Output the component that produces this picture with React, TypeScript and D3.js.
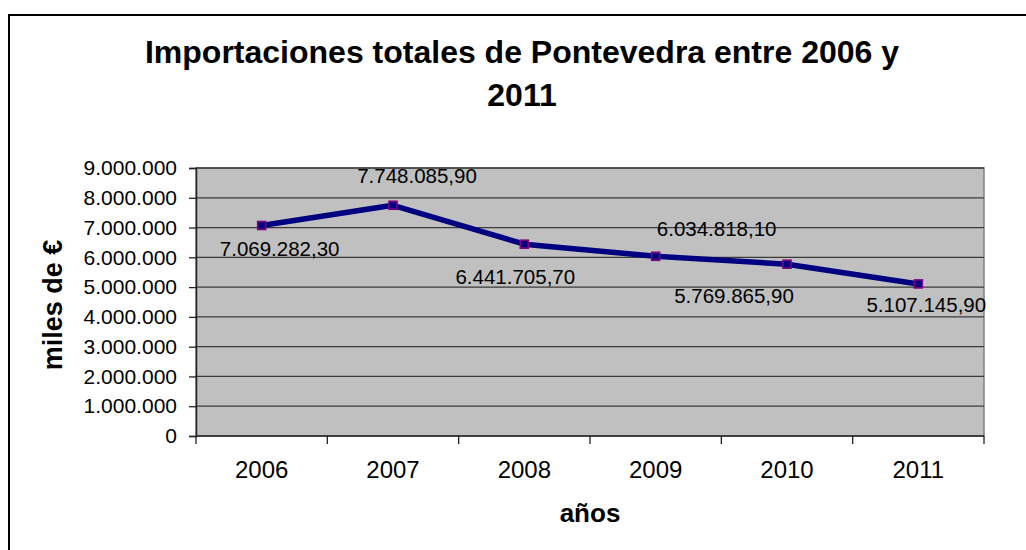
import { useEffect, useRef } from 'react';
import * as d3 from 'd3';

const years = ['2006', '2007', '2008', '2009', '2010', '2011'];
const imports = [7069282.3, 7748085.9, 6441705.7, 6034818.1, 5769865.9, 5107145.9];
const valueLabels = ['7.069.282,30', '7.748.085,90', '6.441.705,70', '6.034.818,10', '5.769.865,90', '5.107.145,90'];
const yTicks = [0, 1000000, 2000000, 3000000, 4000000, 5000000, 6000000, 7000000, 8000000, 9000000];
const yTickLabels = ['0', '1.000.000', '2.000.000', '3.000.000', '4.000.000', '5.000.000', '6.000.000', '7.000.000', '8.000.000', '9.000.000'];

// hand-placed label offsets (dx, dy) from each point, as in the original chart
const labelOffsets = [[18, 31], [24, -22], [-9, 40], [61, -20], [-53, 39], [8, 28]];

const App = () => {
  const svgRef = useRef(null);

  useEffect(() => {
    const svg = d3.select(svgRef.current);
    svg.selectAll('*').remove();

    const width = 1026;
    const height = 550;
    const left = 196, right = 984, top = 168, bottom = 436;
    const font = 'Arial, "Liberation Sans", sans-serif';

    svg.attr('width', width).attr('height', height);

    // outer chart frame (runs off the picture at right and bottom)
    svg.append('rect')
      .attr('x', 9).attr('y', 15)
      .attr('width', 1100).attr('height', 600)
      .attr('fill', 'white')
      .attr('stroke', '#000').attr('stroke-width', 2);

    const x = d3.scaleBand().domain(years).range([left, right]).padding(0);
    const y = d3.scaleLinear().domain([0, 9000000]).range([bottom, top]);

    // plot area
    svg.append('rect')
      .attr('x', left).attr('y', top)
      .attr('width', right - left).attr('height', bottom - top)
      .attr('fill', '#c0c0c0')
      .attr('stroke', '#808080').attr('stroke-width', 1.5);

    // gridlines
    svg.append('g')
      .selectAll('line')
      .data(yTicks.slice(1))
      .enter()
      .append('line')
      .attr('x1', left).attr('x2', right)
      .attr('y1', d => y(d)).attr('y2', d => y(d))
      .attr('stroke', '#3a3a3a').attr('stroke-width', 1.3);

    // y axis
    const yAxis = d3.axisLeft(y)
      .tickValues(yTicks)
      .tickSize(7)
      .tickPadding(12)
      .tickFormat((d, i) => yTickLabels[i]);
    const gy = svg.append('g')
      .attr('transform', `translate(${left},0)`)
      .call(yAxis);
    gy.select('.domain').attr('stroke', '#222').attr('stroke-width', 1.5);
    gy.selectAll('.tick line').attr('stroke', '#222').attr('stroke-width', 1.3);
    gy.selectAll('.tick text')
      .attr('font-family', font).attr('font-size', 21).attr('fill', '#000');

    // x axis: ticks at category boundaries
    const boundaries = years.map(d => x(d)).concat([right]);
    svg.append('line')
      .attr('x1', left).attr('x2', right)
      .attr('y1', bottom).attr('y2', bottom)
      .attr('stroke', '#222').attr('stroke-width', 1.5);
    svg.append('g')
      .selectAll('line')
      .data(boundaries)
      .enter()
      .append('line')
      .attr('x1', d => d).attr('x2', d => d)
      .attr('y1', bottom).attr('y2', bottom + 8)
      .attr('stroke', '#222').attr('stroke-width', 1.3);
    svg.append('g')
      .selectAll('text')
      .data(years)
      .enter()
      .append('text')
      .attr('x', d => x(d) + x.bandwidth() / 2)
      .attr('y', 478)
      .attr('text-anchor', 'middle')
      .attr('font-family', font).attr('font-size', 24)
      .text(d => d);

    // line
    const pts = years.map((d, i) => [x(d) + x.bandwidth() / 2, y(imports[i])]);
    svg.append('path')
      .attr('d', d3.line()(pts))
      .attr('fill', 'none')
      .attr('stroke', '#000080').attr('stroke-width', 5.5)
      .attr('stroke-linejoin', 'round');

    // markers
    svg.append('g')
      .selectAll('rect')
      .data(pts)
      .enter()
      .append('rect')
      .attr('x', d => d[0] - 4).attr('y', d => d[1] - 4)
      .attr('width', 8).attr('height', 8)
      .attr('fill', '#000080')
      .attr('stroke', '#800080').attr('stroke-width', 1.6);

    // data labels
    svg.append('g')
      .selectAll('text')
      .data(pts)
      .enter()
      .append('text')
      .attr('x', (d, i) => d[0] + labelOffsets[i][0])
      .attr('y', (d, i) => d[1] + labelOffsets[i][1])
      .attr('text-anchor', 'middle')
      .attr('font-family', font).attr('font-size', 20.5)
      .text((d, i) => valueLabels[i]);

    // title
    const title = svg.append('text')
      .attr('text-anchor', 'middle')
      .attr('font-family', font).attr('font-size', 32).attr('font-weight', 'bold');
    title.append('tspan').attr('x', 522).attr('y', 63)
      .text('Importaciones totales de Pontevedra entre 2006 y');
    title.append('tspan').attr('x', 522).attr('y', 106).text('2011');

    // axis titles
    svg.append('text')
      .attr('transform', 'translate(62,305) rotate(-90)')
      .attr('text-anchor', 'middle')
      .attr('font-family', font).attr('font-size', 27).attr('font-weight', 'bold')
      .text('miles de €');
    svg.append('text')
      .attr('x', 590).attr('y', 522)
      .attr('text-anchor', 'middle')
      .attr('font-family', font).attr('font-size', 26).attr('font-weight', 'bold')
      .text('años');
  }, []);

  return (
    <svg ref={svgRef} style={{ position: 'absolute', left: 0, top: 0 }}></svg>
  );
};

export default App;
